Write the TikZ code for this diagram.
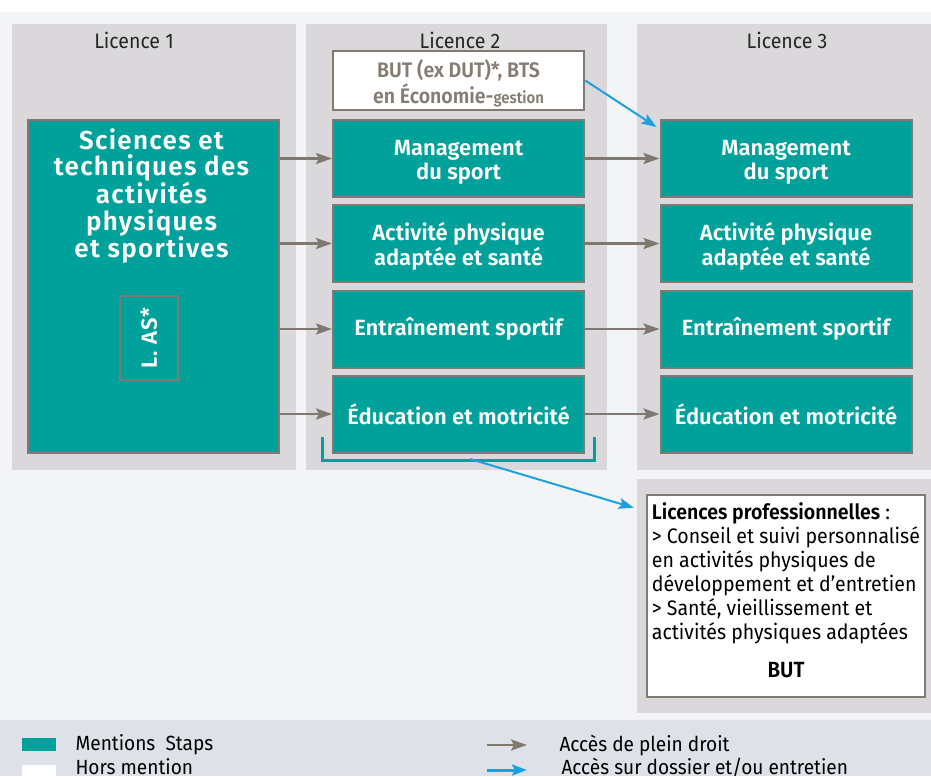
\documentclass[tikz,border=0pt]{standalone}
\usepackage{fontspec}
\setmainfont{Fira Sans}[BoldFont={Fira Sans SemiBold}]
\newfontfamily\condfont[FakeStretch=0.93]{Fira Sans}
\newfontfamily\condbold[FakeStretch=0.93]{Fira Sans SemiBold}
\usepackage{tikz}
\usetikzlibrary{arrows.meta,calc}
\definecolor{pagebg}{HTML}{F3F4F6}
\definecolor{legendbg}{HTML}{DFE1E8}
\definecolor{panel}{HTML}{DAD8DB}
\definecolor{staps}{HTML}{00A19A}
\definecolor{edge}{HTML}{807A72}
\definecolor{butgray}{HTML}{857C73}
\definecolor{plein}{HTML}{7F786F}
\definecolor{dossier}{HTML}{1BA1E2}
\tikzset{
  panelbox/.style={fill=panel, draw=none},
  yeartitle/.style={font=\condfont\fontsize{21}{24}\selectfont, text=black!85},
  mention/.style={draw=edge, line width=2pt, fill=staps, text=white, align=center,
    minimum width=251pt, minimum height=77pt, inner sep=0pt,
    font=\bfseries\fontsize{22}{24.5}\selectfont},
  horsmention/.style={draw=edge, line width=2.5pt, fill=white, inner sep=0pt},
  aplein/.style={-{Stealth[length=16pt,width=11pt,inset=3pt]}, line width=2.5pt, draw=plein},
  adossier/.style={-{Stealth[length=15pt,width=11pt,inset=3pt]}, line width=2pt, draw=dossier},
  legtext/.style={font=\condfont\fontsize{20.5}{22}\selectfont, anchor=west}
}
\newcommand{\Panel}[4]{\fill[panelbox] (#1,#2) rectangle (#3,#4);}
\newcommand{\Low}[2]{\raisebox{-#1}[\height][\depth]{#2}}

\begin{document}
\begin{tikzpicture}[x=1pt, y=-1pt]
  \useasboundingbox (0,0) rectangle (931,776);
  \fill[white] (0,0) rectangle (931,776);
  \fill[pagebg] (0,12) rectangle (931,720);
  \fill[legendbg] (0,720) rectangle (931,776);
  \Panel{12}{24}{296}{470}
  \Panel{306}{24}{607}{470}
  \Panel{637}{24}{931}{470}
  \Panel{637}{479}{931}{713}

  \node[yeartitle] (t1) at (134,40) {Licence 1};
  \node[yeartitle] (t2) at (460,40) {Licence 2};
  \node[yeartitle] (t3) at (787,40) {Licence 3};

  % Licence 1
  \node[mention, minimum width=251pt, minimum height=333pt] (l1) at (153.5,286.5) {};
  \node[text=white, align=center, anchor=north, inner sep=0pt,
    font=\bfseries\fontsize{26}{26.5}\selectfont\addfontfeature{LetterSpace=5}] (l1t) at ([shift={(-2,9)}]l1.north)
    {Sciences et\\techniques des\\activités\\physiques\\et sportives};
  \node[mention, minimum width=58pt, minimum height=84pt] (las) at (149,338)
    {\rotatebox{90}{\fontsize{22}{24}\selectfont\addfontfeature{LetterSpace=4}L. AS*}};

  % Licence 2
  \node[horsmention, minimum width=251pt, minimum height=59pt, align=center, text=butgray,
    font=\condbold\fontsize{21}{26}\selectfont] (but) at (458.5,80.5)
    {\Low{3pt}{BUT (ex DUT)*, BTS}\\\Low{3pt}{en Économie-{\fontsize{16}{18}\selectfont gestion}}};
  \node[mention] (l2a) at (458.5,158.5) {\Low{4pt}{Management}\\\Low{4pt}{du sport}};
  \node[mention] (l2b) at (458.5,243.5) {\Low{3pt}{Activité physique}\\\Low{3pt}{adaptée et santé}};
  \node[mention] (l2c) at (458.5,329) {Entraînement sportif};
  \node[mention] (l2d) at (458.5,414) {Éducation et motricité};

  % Licence 3
  \node[mention] (l3a) at (786,158.5) {\Low{4pt}{Management}\\\Low{4pt}{du sport}};
  \node[mention] (l3b) at (786,243.5) {\Low{3pt}{Activité physique}\\\Low{3pt}{adaptée et santé}};
  \node[mention] (l3c) at (786,329) {Entraînement sportif};
  \node[mention] (l3d) at (786,414) {Éducation et motricité};

  % licences pro
  \node[horsmention, minimum width=278pt, minimum height=202pt] (pro) at (786,596) {};
  \node[anchor=north west, align=left, inner sep=0pt,
    font=\condfont\fontsize{21}{24}\selectfont] (prot) at ([shift={(6,9)}]pro.north west)
    {{\condbold Licences professionnelles} :\\
     > Conseil et suivi personnalisé\\
     en activités physiques de\\
     développement et d’entretien\\
     > Santé, vieillissement et\\
     activités physiques adaptées};
  \node[font=\condbold\fontsize{22}{24}\selectfont] (probut) at (786,670) {BUT};

  \foreach \r in {a,b,c,d}{
    \draw[aplein] (l1.east |- l2\r.west) -- (l2\r.west);
    \draw[aplein] (l2\r.east) -- (l3\r.west);
  }

  \draw[staps, line width=3pt] (322,437) |- (594,460) -- (594,437);
  \coordinate (brk) at (470,459);
  \coordinate (proin) at ([shift={(-12,14)}]pro.north west);
  \draw[adossier] (but.east) -- ([shift={(-3,8)}]l3a.north west);
  \draw[adossier] (brk) -- (proin);

  % legende
  \fill[staps] (22,738) rectangle (56,751);
  \fill[white] (22,765) rectangle (56,776);
  \node[legtext] (lg1) at (72,745) {Mentions\ \ Staps};
  \node[legtext] (lg2) at (72,767) {Hors mention};
  \coordinate (ga) at (487,745);
  \coordinate (gb) at (527,745);
  \coordinate (ba) at (487,770);
  \coordinate (bb) at (527,770);
  \draw[aplein, line width=2.5pt] (ga) -- (gb);
  \draw[adossier, line width=3pt] (ba) -- (bb);
  \node[legtext] (lg3) at (556,745) {Accès de plein droit};
  \node[legtext] (lg4) at (558,767) {Accès sur dossier et/ou entretien};
\end{tikzpicture}
\end{document}
